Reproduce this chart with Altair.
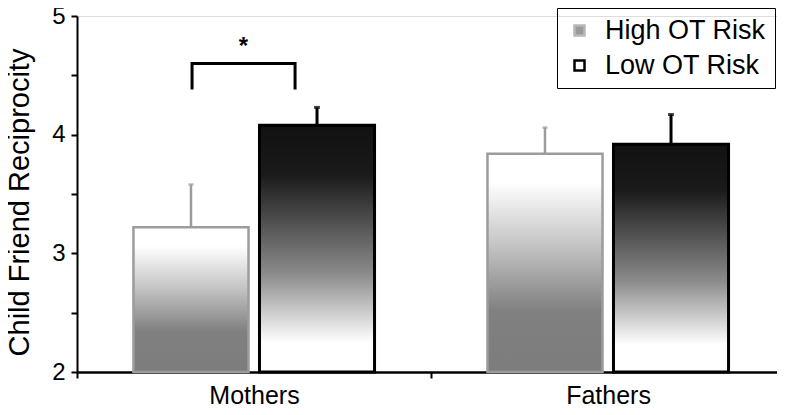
import altair as alt
import pandas as pd

# ---- data ----
groups = ["Mothers", "Fathers"]
risks = ["High OT Risk", "Low OT Risk"]
mean_high = [3.22, 3.84]
mean_low = [4.08, 3.92]
upper_high = [3.58, 4.06]
upper_low = [4.23, 4.17]

# significance bracket (x in category units: 0..2 across the axis)
bracket_x = [0.325, 0.325, 0.616, 0.616]
bracket_y = [4.38, 4.60, 4.60, 4.38]
star_x = [0.47]
star_y = [4.68]
star_label = ["*"]

FONT = "Liberation Sans"
X_RANGE = [0, 708]

rows = []
for i, g in enumerate(groups):
    rows.append({"group": g, "risk": risks[0], "mean": mean_high[i], "upper": upper_high[i]})
    rows.append({"group": g, "risk": risks[1], "mean": mean_low[i], "upper": upper_low[i]})
df = pd.DataFrame(rows)

YTITLE = "Child Friend Reciprocity"

x_enc = alt.X(
    "group:N", sort=groups,
    scale=alt.Scale(domain=groups, range=X_RANGE, paddingInner=0, paddingOuter=0),
    axis=alt.Axis(title=None, labelAngle=0, tickBand="extent", labelFontSize=25,
                  labelColor="black", labelFont=FONT, tickSize=6, tickWidth=2,
                  tickColor="black", domainColor="black", domainWidth=2.5,
                  labelPadding=5),
)
xo_enc = alt.XOffset("risk:N", sort=risks,
                     scale=alt.Scale(domain=risks, paddingInner=0.087, paddingOuter=0.448))

y_axis = alt.Axis(
    title=YTITLE, values=[2, 2.5, 3, 3.5, 4, 4.5, 5],
    labelExpr="datum.value % 1 == 0 ? format(datum.value, 'd') : ''",
    grid=False, tickSize=6, tickWidth=2, tickColor="black",
    domainColor="black", domainWidth=2, labelFontSize=24, labelColor="black",
    labelFont=FONT, labelPadding=6, titleFontSize=29, titleFontWeight="normal",
    titleColor="black", titleFont=FONT, titleX=-49, titleY=186,
    titleBaseline="alphabetic",
)
y_scale = alt.Scale(domain=[2, 5], nice=False, zero=False)


def yq(field):
    return alt.Y(field, type="quantitative", scale=y_scale, axis=y_axis, title=YTITLE)


high_grad = alt.Gradient(
    gradient="linear", x1=0, x2=0, y1=0, y2=1,
    stops=[alt.GradientStop(color="#ffffff", offset=0),
           alt.GradientStop(color="#ffffff", offset=0.13),
           alt.GradientStop(color="#c4c4c4", offset=0.42),
           alt.GradientStop(color="#808080", offset=0.72),
           alt.GradientStop(color="#7d7d7d", offset=1)],
)
low_grad = alt.Gradient(
    gradient="linear", x1=0, x2=0, y1=0, y2=1,
    stops=[alt.GradientStop(color="#111111", offset=0),
           alt.GradientStop(color="#1a1a1a", offset=0.2),
           alt.GradientStop(color="#8a8a8a", offset=0.6),
           alt.GradientStop(color="#ffffff", offset=0.88),
           alt.GradientStop(color="#ffffff", offset=1)],
)

base = alt.Chart(df)
hi = base.transform_filter(alt.datum.risk == risks[0])
lo = base.transform_filter(alt.datum.risk == risks[1])

bars_hi = hi.mark_bar(fill=high_grad, stroke="#9c9c9c", strokeWidth=2.5).encode(
    x=x_enc, xOffset=xo_enc, y=yq("mean"), y2=alt.datum(2))
bars_lo = lo.mark_bar(fill=low_grad, stroke="black", strokeWidth=3).encode(
    x=x_enc, xOffset=xo_enc, y=yq("mean"), y2=alt.datum(2))

err_hi = hi.mark_rule(color="#9c9c9c", strokeWidth=2.5).encode(
    x=x_enc, xOffset=xo_enc, y=yq("mean"), y2="upper:Q")
err_lo = lo.mark_rule(color="black", strokeWidth=3).encode(
    x=x_enc, xOffset=xo_enc, y=yq("mean"), y2="upper:Q")
cap_hi = hi.mark_tick(color="#9c9c9c", size=5, thickness=2.5).encode(
    x=x_enc, xOffset=xo_enc, y=yq("upper"))
cap_lo = lo.mark_tick(color="black", size=6, thickness=3).encode(
    x=x_enc, xOffset=xo_enc, y=yq("upper"))

legend_spec = alt.Legend(
    title=None, orient="none", legendX=480, legendY=-8,
    strokeColor="black", padding=9, rowPadding=7,
    symbolType="square", symbolSize=100, symbolOpacity=1, symbolStrokeWidth=2.5,
    labelFontSize=27, labelFont=FONT, labelColor="black", labelOffset=12,
    labelLimit=300,
)
legend_layer = base.mark_square(opacity=0, size=100).encode(
    x=x_enc, xOffset=xo_enc, y=yq("mean"),
    fill=alt.Fill("risk:N", sort=risks,
                  scale=alt.Scale(domain=risks, range=["#9a9a9a", "#ffffff"]),
                  legend=legend_spec),
    stroke=alt.Stroke("risk:N", sort=risks,
                      scale=alt.Scale(domain=risks, range=["#b8b8b8", "#000000"]),
                      legend=legend_spec),
)

main = alt.layer(bars_hi, bars_lo, err_hi, err_lo, cap_hi, cap_lo, legend_layer)

ax_scale = alt.Scale(domain=[0, 2], range=X_RANGE)
bracket_df = pd.DataFrame({"bx": bracket_x, "by": bracket_y, "ord": list(range(len(bracket_x)))})
bracket = alt.Chart(bracket_df).mark_line(color="black", strokeWidth=3, strokeJoin="miter").encode(
    x=alt.X("bx:Q", scale=ax_scale, axis=None),
    y=alt.Y("by:Q", scale=y_scale, axis=None),
    order="ord:Q",
)
star_df = pd.DataFrame({"sx": star_x, "sy": star_y, "t": star_label})
star = alt.Chart(star_df).mark_text(fontSize=24, fontWeight="bold", font=FONT,
                                    color="black", baseline="alphabetic").encode(
    x=alt.X("sx:Q", scale=ax_scale, axis=None),
    y=alt.Y("sy:Q", scale=y_scale, axis=None),
    text="t:N",
)
annot = alt.layer(bracket, star)

chart = alt.layer(main, annot).resolve_scale(x="independent", y="independent").properties(
    width=700, height=356,
    autosize="none",
    padding={"left": 69, "top": 8, "right": 0, "bottom": 35},
).configure_view(stroke=None).configure(background="white")

chart.save("out.html", embed_options={"renderer": "svg", "actions": False})
